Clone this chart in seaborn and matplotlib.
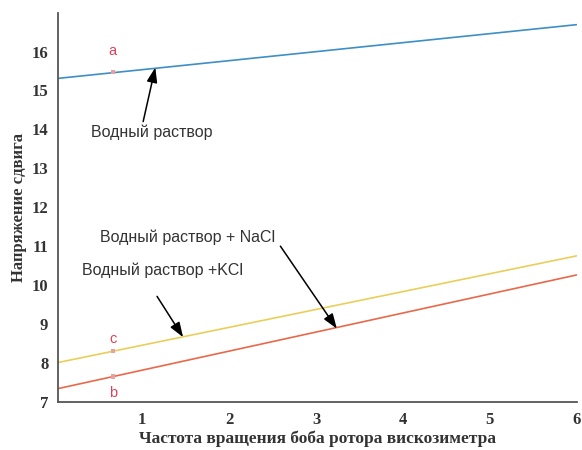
import numpy as np
import pandas as pd
import matplotlib
matplotlib.use("Agg")
import matplotlib.pyplot as plt
import seaborn as sns

# Rotor speed range and fitted shear stress at its ends
speed = [0.03, 6.0]
water = [15.31, 16.69]
water_kcl = [8.01, 10.75]
water_nacl = [7.34, 10.26]

# Measured points a, b, c
point_speed = [0.66, 0.66, 0.66]
point_stress = [15.47, 7.65, 8.30]
point_labels = ["a", "b", "c"]

series_names = ["Водный раствор", "Водный раствор +KCl", "Водный раствор + NaCl"]
colors = {"Водный раствор": "#3d8fc6",
          "Водный раствор +KCl": "#e9cf5a",
          "Водный раствор + NaCl": "#e8694a"}

df = pd.DataFrame({
    "speed": speed * 3,
    "stress": water + water_kcl + water_nacl,
    "series": [series_names[0]] * 2 + [series_names[1]] * 2 + [series_names[2]] * 2,
})

sns.set_style("white")
fig = plt.figure(figsize=(5.82, 4.5), dpi=100)
ax = fig.add_axes([0.0997, 0.107, 0.891, 0.865])

sns.lineplot(data=df, x="speed", y="stress", hue="series", palette=colors,
             linewidth=1.2, legend=False, ax=ax)
sns.scatterplot(x=point_speed, y=point_stress, marker="s", s=10,
                color="#e8a0a0", edgecolor="none", ax=ax, zorder=3)

label_offsets = {"a": 0.55, "b": -0.42, "c": 0.32}
for xs, ys, lab in zip(point_speed, point_stress, point_labels):
    ax.text(xs, ys + label_offsets[lab], lab, color="#e0405a", fontsize=10.5,
            ha="center", va="center", family="Liberation Sans")

arrow = dict(arrowstyle="-|>,head_length=0.9,head_width=0.32", color="black",
             lw=1.1, shrinkA=0, shrinkB=0)
txt_kw = dict(fontsize=11.5, color="#333333", family="Liberation Sans",
              ha="center", va="center")

ax.text(1.11, 13.92, series_names[0], **txt_kw)
ax.annotate("", xy=(1.15, 15.59), xytext=(1.01, 14.2), arrowprops=arrow)

ax.text(1.52, 11.23, series_names[2], **txt_kw)
ax.annotate("", xy=(3.24, 8.88), xytext=(2.59, 11.0), arrowprops=arrow)

ax.text(1.23, 10.39, series_names[1], **txt_kw)
ax.annotate("", xy=(1.47, 8.66), xytext=(1.17, 9.71), arrowprops=arrow)

ax.set_xlim(0.03, 6.0)
ax.set_ylim(7, 17)
ax.set_xticks([1, 2, 3, 4, 5, 6])
ax.set_yticks(list(range(7, 17)))

for side in ["top", "right"]:
    ax.spines[side].set_visible(False)
for side in ["left", "bottom"]:
    ax.spines[side].set_color("#555555")
    ax.spines[side].set_linewidth(1.3)

ax.tick_params(direction="in", length=4, width=1, color="#555555",
               labelsize=12, pad=7)
for lab in ax.get_xticklabels() + ax.get_yticklabels():
    lab.set_family("Liberation Serif")
    lab.set_fontweight("bold")
    lab.set_color("#333333")

ax.set_xlabel("Частота вращения боба ротора вискозиметра", family="Liberation Serif",
              fontweight="bold", fontsize=12.5, color="#333333", labelpad=2)
ax.set_ylabel("Напряжение сдвига", family="Liberation Serif",
              fontweight="bold", fontsize=12, color="#333333", labelpad=3)

fig.savefig("out.png", dpi=100)
